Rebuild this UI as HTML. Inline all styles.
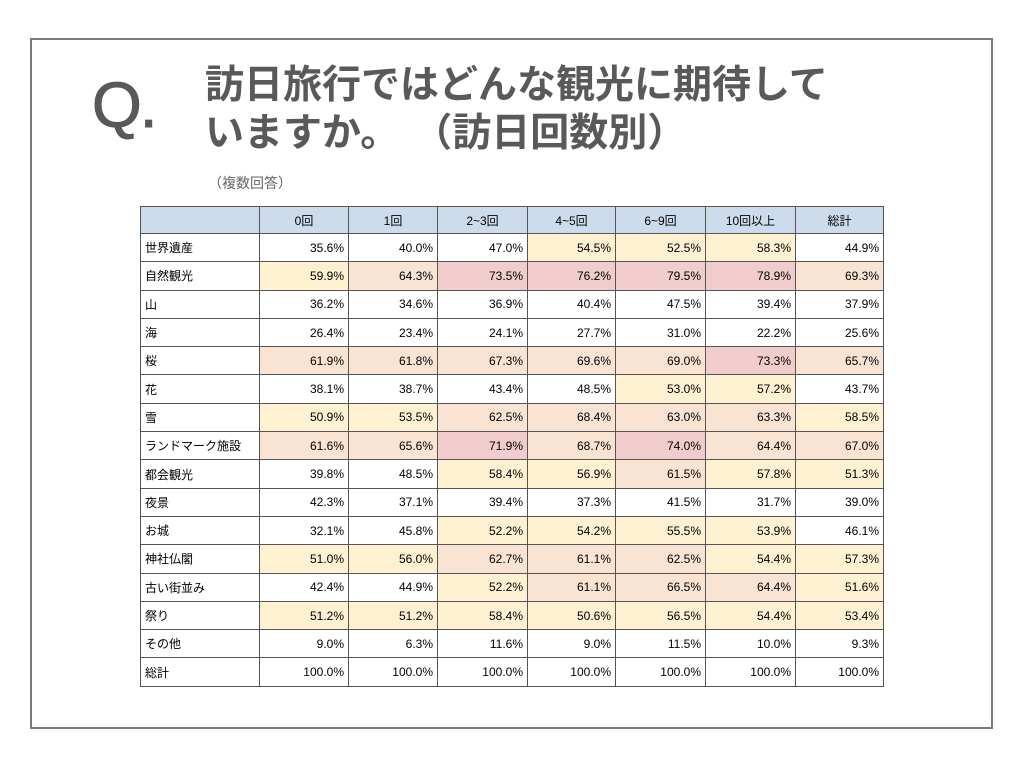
<!DOCTYPE html>
<html><head><meta charset="utf-8"><style>
body{margin:0;width:1024px;height:768px;background:#fff;position:relative;font-family:"Liberation Sans","Noto Sans CJK JP",sans-serif;overflow:hidden}
.frame{position:absolute;left:30px;top:38px;width:963px;height:691px;border:2px solid #7a7a7a;box-sizing:border-box}
.q{position:absolute;left:92px;top:68px;font-size:64px;color:#595959;font-family:"Liberation Sans",sans-serif;letter-spacing:-2px;-webkit-text-stroke:1px #595959}
.t{position:absolute;left:205px;top:62px;font-size:39px;font-weight:bold;color:#595959;line-height:48px;white-space:nowrap}
.s{position:absolute;left:208px;top:173px;font-size:14px;color:#666}
table{position:absolute;left:140px;top:206px;border-collapse:collapse;font-size:12px;color:#000;table-layout:fixed;width:743px}
td{border:1px solid #555;height:28.3px;padding:0 4px;text-align:right;box-sizing:border-box;white-space:nowrap}
tr.h td{background:#cddcec;text-align:center;height:27px}
.Y{background:#fdf1d1}.P{background:#f9e4d3}.K{background:#f0cccc}
</style></head><body>
<div class="frame"></div>
<div class="q">Q.</div>
<div class="t">訪日旅行ではどんな観光に期待して<br>いますか。<span style="display:inline-block;margin-left:14px">（訪日回数別）</span></div>
<div class="s">（複数回答）</div>
<table id="tb"><colgroup><col style="width:119px"><col style="width:89px"><col style="width:89px"><col style="width:90px"><col style="width:88px"><col style="width:90px"><col style="width:90px"><col style="width:88px"></colgroup><tbody id="bd"><tr class="h"><td style="text-align:left"></td><td>0回</td><td>1回</td><td>2~3回</td><td>4~5回</td><td>6~9回</td><td>10回以上</td><td>総計</td></tr></tbody></table>
<script>
var d=[["世界遺産",35.6,40.0,47.0,54.5,52.5,58.3,44.9],["自然観光",59.9,64.3,73.5,76.2,79.5,78.9,69.3],["山",36.2,34.6,36.9,40.4,47.5,39.4,37.9],["海",26.4,23.4,24.1,27.7,31.0,22.2,25.6],["桜",61.9,61.8,67.3,69.6,69.0,73.3,65.7],["花",38.1,38.7,43.4,48.5,53.0,57.2,43.7],["雪",50.9,53.5,62.5,68.4,63.0,63.3,58.5],["ランドマーク施設",61.6,65.6,71.9,68.7,74.0,64.4,67.0],["都会観光",39.8,48.5,58.4,56.9,61.5,57.8,51.3],["夜景",42.3,37.1,39.4,37.3,41.5,31.7,39.0],["お城",32.1,45.8,52.2,54.2,55.5,53.9,46.1],["神社仏閣",51.0,56.0,62.7,61.1,62.5,54.4,57.3],["古い街並み",42.4,44.9,52.2,61.1,66.5,64.4,51.6],["祭り",51.2,51.2,58.4,50.6,56.5,54.4,53.4],["その他",9.0,6.3,11.6,9.0,11.5,10.0,9.3],["総計",100,100,100,100,100,100,100]];
var h="";d.forEach(function(r){h+='<tr><td style="text-align:left">'+r[0]+"</td>";for(var i=1;i<8;i++){var v=r[i],c="";if(v<100){c=v>=70?"K":v>=60?"P":v>=50?"Y":"";}h+='<td class="'+c+'">'+v.toFixed(1)+"%</td>";}h+="</tr>";});
document.getElementById("bd").insertAdjacentHTML("beforeend",h);
</script>
</body></html>
